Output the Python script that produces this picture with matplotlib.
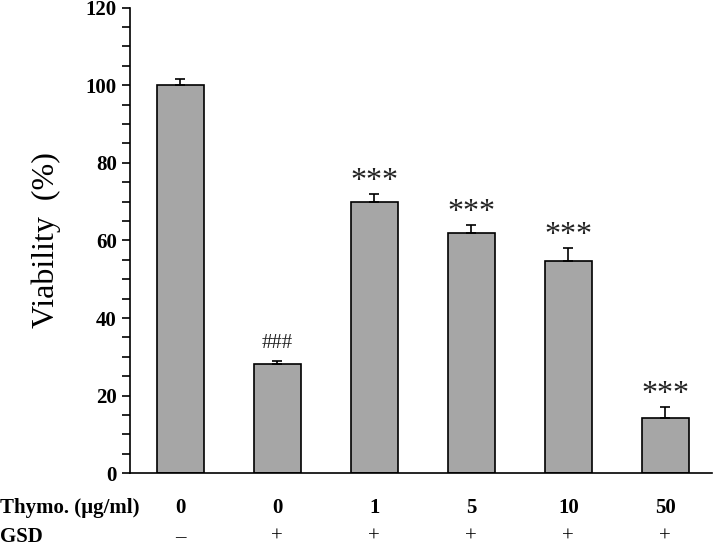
import matplotlib
matplotlib.use("Agg")
import matplotlib.pyplot as plt
import numpy as np

# ── data ──────────────────────────────────────────────
thymo_labels = ["0", "0", "1", "5", "10", "50"]
gsd_labels = ["\u2013", "+", "+", "+", "+", "+"]
viability = [100, 28.2, 69.9, 62.0, 54.8, 14.3]
errors = [1.5, 0.7, 2.0, 2.0, 3.2, 2.8]
marks = ["", "###", "***", "***", "***", "***"]

plt.rcParams["font.family"] = ["Liberation Serif", "DejaVu Serif"]

fig = plt.figure(figsize=(7.14, 5.49), dpi=100)
ax = fig.add_axes([0.182, 0.138, 0.815, 0.848])

x = np.arange(len(viability))
ax.bar(x, viability, width=0.49, color="#a6a6a6", edgecolor="black",
       linewidth=1.2, zorder=2)
ax.errorbar(x, viability, yerr=[np.zeros(len(errors)), errors], fmt="none",
            ecolor="black", elinewidth=1.2, capsize=3.4, capthick=1.2, zorder=3)

# significance marks
for xi, v, e, m in zip(x, viability, errors, marks):
    if not m:
        continue
    if m.startswith("#"):
        ax.annotate(m, xy=(xi, v + e), xytext=(0, 13), textcoords="offset points",
                    ha="center", va="center", fontsize=15, color="#222222")
    else:
        ax.annotate(m, xy=(xi, v + e), xytext=(0, 9), textcoords="offset points",
                    ha="center", va="center", fontsize=23, color="#222222")

ax.set_xlim(-0.52, 5.48)
ax.set_ylim(0, 120)
ax.set_yticks(np.arange(0, 121, 20))
ax.set_yticks(np.arange(0, 121, 5), minor=True)
ax.tick_params(axis="y", which="major", direction="out", length=6, width=1.2,
               labelsize=15)
ax.tick_params(axis="y", which="minor", direction="out", length=6, width=1.2)
for lbl in ax.get_yticklabels():
    lbl.set_fontweight("bold")
ax.set_xticks([])

ax.spines["top"].set_visible(False)
ax.spines["right"].set_visible(False)
ax.spines["left"].set_linewidth(1.2)
ax.spines["bottom"].set_linewidth(1.2)

ax.set_ylabel("Viability  (%)", fontsize=23, labelpad=18)

# condition rows below the axis
trans = ax.get_xaxis_transform()
for xi, t, g in zip(x, thymo_labels, gsd_labels):
    ax.text(xi, -0.075, t, transform=trans, ha="center", va="center",
            fontsize=15, fontweight="bold")
    ax.text(xi, -0.138, g, transform=trans, ha="center", va="center",
            fontsize=15)
fig.text(0.0, 0.075, "Thymo. (\u00b5g/ml)", ha="left", va="center",
         fontsize=15, fontweight="bold")
fig.text(0.0, 0.022, "GSD", ha="left", va="center", fontsize=15,
         fontweight="bold")

fig.savefig("out.png", dpi=100)
